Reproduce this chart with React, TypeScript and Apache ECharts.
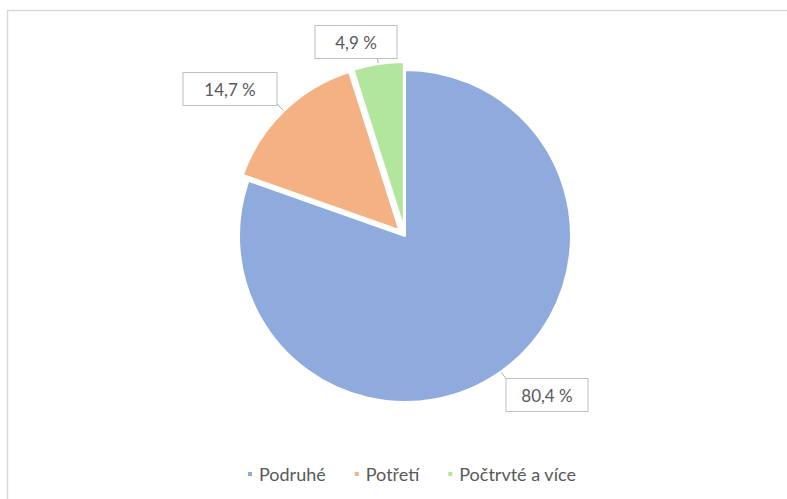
import React, { useEffect, useRef } from "react";
import * as echarts from "echarts";

const categories = ["Podruhé", "Potřetí", "Počtrvté a více"];
const values = [80.4, 14.7, 4.9];
const colors = ["#8FAADC", "#F4B183", "#B3E69D"];
const exploded = [false, true, true];
const labelCenters = [
  [547, 395],
  [230, 89],
  [356, 42],
];
const labelBoxWidths = [81, 93, 81];
const OFFSET = 8;
const LABEL_FONT_SIZE = 17;

const fmt = (v: number) => v.toFixed(1).replace(".", ",") + " %";

export default function App() {
  const ref = useRef<HTMLDivElement>(null);
  useEffect(() => {
    if (!ref.current) return;
    const chart = echarts.init(ref.current, null, { renderer: "svg" });
    const total = values.reduce((a, b) => a + b, 0);
    let acc = 0;
    const shifts = values.map((v, i) => {
      const mid = ((acc + v / 2) / total) * Math.PI * 2;
      acc += v;
      if (!exploded[i]) return [0, 0];
      return [OFFSET * Math.sin(mid), -OFFSET * Math.cos(mid)];
    });
    const ctx = document.createElement("canvas").getContext("2d")!;
    ctx.font = `${LABEL_FONT_SIZE}px Lato`;
    const padX = values.map((v, i) =>
      Math.max(4, (labelBoxWidths[i] - ctx.measureText(fmt(v)).width) / 2)
    );
    chart.setOption({
      animation: false,
      backgroundColor: "#ffffff",
      graphic: [
        {
          type: "rect",
          shape: { x: 7.5, y: 10.5, width: 820, height: 520 },
          style: { fill: "none", stroke: "#d9d9d9", lineWidth: 1.5 },
          silent: true,
        },
      ],
      legend: {
        left: 246,
        top: 465,
        padding: 0,
        icon: "rect",
        itemWidth: 6,
        itemHeight: 6,
        itemGap: 27,
        selectedMode: false,
        textStyle: { fontFamily: "Lato", fontSize: 18, color: "#595959", padding: [0, 0, 0, 1] },
        data: categories,
      },
      series: [
        {
          type: "pie",
          center: [405, 236],
          radius: [0, 166],
          startAngle: 90,
          clockwise: true,
          selectedMode: "multiple",
          selectedOffset: OFFSET,
          avoidLabelOverlap: false,
          emphasis: { disabled: true },
          itemStyle: { borderColor: "#ffffff", borderWidth: 2 },
          label: {
            show: true,
            position: "outside",
            formatter: (p: any) => fmt(p.value),
            fontFamily: "Lato",
            fontSize: LABEL_FONT_SIZE,
            color: "#595959",
            backgroundColor: "#ffffff",
            borderColor: "#bfbfbf",
            borderWidth: 1,
          },
          labelLine: {
            show: true,
            length: 10,
            length2: 10,
            lineStyle: { color: "#b0b0b0", width: 1 },
          },
          labelLayout: (params: any) => {
            const i = params.dataIndex;
            const c = labelCenters[i];
            const s = shifts[i];
            const r = params.labelRect;
            return {
              dx: c[0] - s[0] - (r.x + r.width / 2),
              dy: c[1] - s[1] - (r.y + r.height / 2),
            };
          },
          data: categories.map((name, i) => ({
            name,
            value: values[i],
            selected: exploded[i],
            itemStyle: { color: colors[i] },
            label: { padding: [8, padX[i], 7, padX[i]] },
          })),
        },
      ],
    });
    return () => chart.dispose();
  }, []);
  return (
    <div
      ref={ref}
      style={{ position: "fixed", left: 0, top: 0, width: 787, height: 499 }}
    />
  );
}
